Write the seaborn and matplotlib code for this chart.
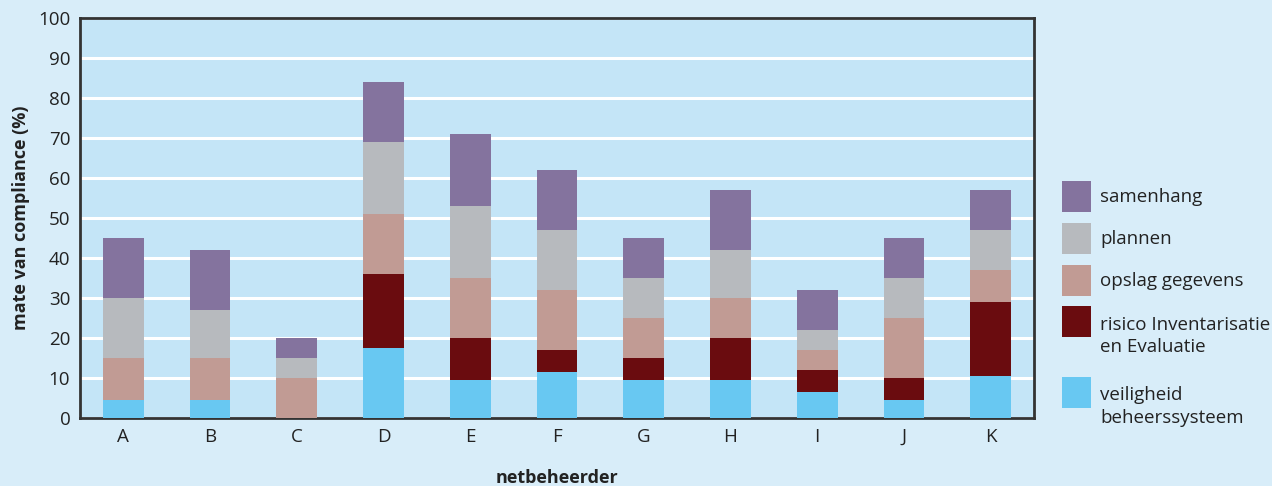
import matplotlib
matplotlib.use("Agg")
import matplotlib.pyplot as plt
import seaborn as sns
import numpy as np
import pandas as pd
from matplotlib.patches import Patch, Rectangle
from matplotlib.legend_handler import HandlerPatch

# data (per netbeheerder, stacked from bottom to top)
netbeheerders = ["A", "B", "C", "D", "E", "F", "G", "H", "I", "J", "K"]
veiligheid = [4.5, 4.5, 0, 17.5, 9.5, 11.5, 9.5, 9.5, 6.5, 4.5, 10.5]
risico = [0, 0, 0, 18.5, 10.5, 5.5, 5.5, 10.5, 5.5, 5.5, 18.5]
opslag = [10.5, 10.5, 10, 15, 15, 15, 10, 10, 5, 15, 8]
plannen = [15, 12, 5, 18, 18, 15, 10, 12, 5, 10, 10]
samenhang = [15, 15, 5, 15, 18, 15, 10, 15, 10, 10, 10]

layers = ["veiligheid\nbeheerssysteem", "risico Inventarisatie\nen Evaluatie",
          "opslag gegevens", "plannen", "samenhang"]
colors = ["#68C8F2", "#6A0C0F", "#C19B94", "#B7BABE", "#84739E"]

sns.set_theme(style="white")
plt.rcParams['font.family'] = ['Open Sans', 'DejaVu Sans']

fig = plt.figure(figsize=(12.72, 4.86), dpi=100, facecolor="#D8EDF9")
ax = fig.add_axes([0.0629, 0.140, 0.750, 0.823])
ax.set_facecolor("#C4E5F7")

# cumulative heights, drawn top layer first so lower layers cover them
stack = np.cumsum(np.array([veiligheid, risico, opslag, plannen, samenhang]), axis=0)
for i in range(len(layers) - 1, -1, -1):
    df = pd.DataFrame({"netbeheerder": netbeheerders, "waarde": stack[i]})
    sns.barplot(data=df, x="netbeheerder", y="waarde", color=colors[i],
                saturation=1, width=0.47, ax=ax, zorder=3, linewidth=0)

ax.set_ylim(0, 100)
ax.set_xlim(-0.5, 10.5)
ax.set_yticks(range(0, 101, 10))
ax.yaxis.grid(True, color="white", linewidth=2.2, zorder=0)
ax.set_axisbelow(True)
ax.tick_params(axis="both", length=0, labelsize=13.5, colors="#222222")
ax.tick_params(axis="y", pad=7)
ax.tick_params(axis="x", pad=7)
for s in ax.spines.values():
    s.set_color("#333333")
    s.set_linewidth(2)

ax.set_xlabel("netbeheerder", fontsize=13, fontweight="bold", color="#222222", labelpad=17)
ax.set_ylabel("mate van compliance (%)", fontsize=13, fontweight="bold", color="#222222", labelpad=6)


# legend: for two-line labels put the swatch next to the first line
def first_line_patch(legend, orig_handle, xdescent, ydescent, width, height, fontsize):
    shift = 11 if "\n" in orig_handle.get_label() else 0
    return Rectangle((-xdescent, -ydescent + shift), width, height)


handles = [Patch(facecolor=colors[i], edgecolor="none", label=layers[i])
           for i in range(len(layers) - 1, -1, -1)]
hmap = {h: HandlerPatch(patch_func=first_line_patch) for h in handles}
leg_kw = dict(loc="upper left", frameon=False, fontsize=13.5, handlelength=1.55,
              handleheight=2.16, handletextpad=0.48, borderpad=0, borderaxespad=0,
              labelcolor="#222222", handler_map=hmap)
fig.legend(handles=handles[:3], bbox_to_anchor=(0.835, 0.6276), labelspacing=0.59, **leg_kw)
leg2 = fig.legend(handles=handles[3:], bbox_to_anchor=(0.835, 0.350), labelspacing=1.62, **leg_kw)
for t in leg2.get_texts():
    t.set_linespacing(1.3)

fig.savefig("out.png", dpi=100, facecolor=fig.get_facecolor())
